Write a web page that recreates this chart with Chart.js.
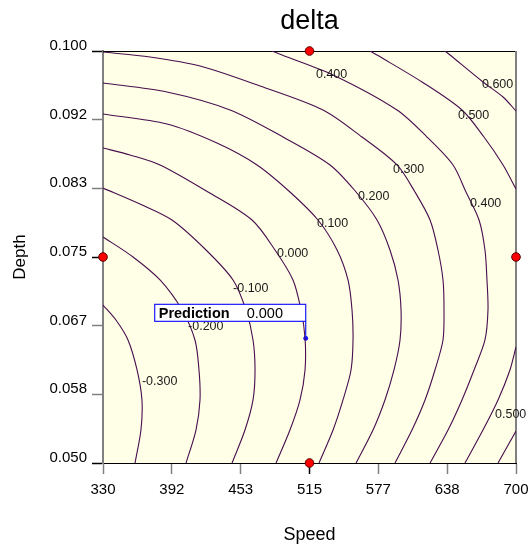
<!DOCTYPE html>
<html><head><meta charset="utf-8">
<script src="https://cdn.jsdelivr.net/npm/chart.js@4/dist/chart.umd.min.js"></script>
<style>html,body{margin:0;padding:0;background:#fff}canvas{display:block}</style>
</head><body>
<canvas id="c" width="531" height="546"></canvas>
<script>
// ---------- data ----------
const chartTitle = 'delta';
const xAxisTitle = 'Speed';
const yAxisTitle = 'Depth';
const xTickValues = [330, 391.6667, 453.3333, 515, 576.6667, 638.3333, 700];
const xTickLabels = ['330', '392', '453', '515', '577', '638', '700'];
const yTickValues = [0.05, 0.058333, 0.066667, 0.075, 0.083333, 0.091667, 0.1];
const yTickLabels = ['0.050', '0.058', '0.067', '0.075', '0.083', '0.092', '0.100'];

// contour lines, [Speed, Depth] points
const contourM030 = [[330,0.06917],[341.6,0.06735],[352.4,0.06493],[360.5,0.06129],[364.9,0.05765],[364.0,0.05400],[358.7,0.05000]];
const contourM020 = [[330,0.07743],[356.9,0.07500],[381.1,0.07221],[400.8,0.06857],[412.4,0.06493],[416.0,0.06129],[416.9,0.05765],[413.3,0.05400],[404.4,0.05000]];
const contourM010 = [[330,0.08337],[363.1,0.08143],[391.8,0.07949],[422.3,0.07585],[446.5,0.07221],[458.1,0.06857],[464.4,0.06493],[466.2,0.06129],[464.4,0.05765],[457.2,0.05400],[445.6,0.05000]];
const contourP000 = [[330,0.08823],[354.2,0.08738],[381.1,0.08617],[424.1,0.08289],[463.5,0.07949],[484.1,0.07585],[500.2,0.07221],[507.4,0.06857],[511.0,0.06517],[511.0,0.06129],[506.5,0.05765],[497.5,0.05400],[485.0,0.05000]];
const contourP010 = [[330,0.09235],[387.3,0.09114],[432.1,0.08883],[468.0,0.08617],[497.5,0.08289],[522.6,0.07949],[539.7,0.07585],[549.5,0.07221],[553.1,0.06857],[554.0,0.06493],[552.2,0.06129],[545.0,0.05765],[536.1,0.05400],[523.5,0.05000]];
const contourP020 = [[330,0.09612],[387.3,0.09502],[443.8,0.09284],[491.3,0.08956],[533.4,0.08617],[556.7,0.08289],[575.5,0.07949],[587.1,0.07585],[594.3,0.07221],[597.0,0.06857],[596.1,0.06493],[590.7,0.06129],[582.6,0.05765],[571.9,0.05400],[556.7,0.05000]];
const contourP030 = [[330,0.09988],[372.1,0.09927],[416.9,0.09818],[470.7,0.09575],[527.1,0.09284],[562.0,0.08956],[593.4,0.08617],[609.5,0.08289],[623.0,0.07949],[630.1,0.07585],[634.6,0.07221],[635.5,0.06857],[634.6,0.06493],[627.4,0.06129],[618.5,0.05765],[606.8,0.05400],[591.6,0.05000]];
const contourP040 = [[481.4,0.1],[490.4,0.09951],[536.1,0.09709],[593.4,0.09284],[620.3,0.08956],[643.6,0.08617],[655.2,0.08289],[666.9,0.07949],[672.2,0.07585],[674.0,0.07221],[674.9,0.06857],[672.2,0.06493],[662.4,0.06129],[651.6,0.05765],[639.1,0.05400],[623.0,0.05000]];
const contourP050a = [[569.2,0.1],[575.5,0.09951],[615.8,0.09624],[651.6,0.09284],[671.3,0.08956],[688.4,0.08617],[700,0.08325]];
const contourP050b = [[700,0.06408],[694.6,0.06129],[683.9,0.05765],[670.4,0.05400],[654.3,0.05000]];
const contourP060a = [[636.4,0.1],[640.9,0.09951],[670.4,0.09624],[688.4,0.09442],[700,0.09272]];
const contourP060b = [[700,0.05388],[683.9,0.05000]];

// contour labels: [text, Speed, Depth]
const contourLabels = [
  ['0.400', 520.8, 0.09709], ['0.600', 669.5, 0.09587], ['0.500', 648.0, 0.09211],
  ['0.300', 589.8, 0.08556], ['0.200', 558.5, 0.08228], ['0.400', 658.8, 0.08143],
  ['0.100', 521.7, 0.07900], ['0.000', 485.9, 0.07536], ['-0.100', 446.5, 0.07112],
  ['-0.200', 406.2, 0.06650], ['-0.300', 364.9, 0.05983], ['0.500', 681.2, 0.05582]
];

const designPoints = [[515, 0.1], [330, 0.075], [700, 0.075], [515, 0.05]];
const predictionPoint = [511.6, 0.06513];
const predictionLabel = 'Prediction';
const predictionValue = '0.000';

// ---------- chart ----------
const FONT = "'Liberation Sans', Arial, sans-serif";
Chart.defaults.font.family = FONT;
Chart.defaults.color = '#000';

const LINE_COLOR = '#480d4e';
const toXY = arr => arr.map(p => ({x: p[0], y: p[1]}));
const contours = [contourM030, contourM020, contourM010, contourP000, contourP010, contourP020,
  contourP030, contourP040, contourP050a, contourP050b, contourP060a, contourP060b];

const datasets = contours.map(c => ({
  data: toXY(c), showLine: true, borderColor: LINE_COLOR, borderWidth: 1.1,
  pointRadius: 0, pointHoverRadius: 0, tension: 0.3, fill: false
}));
datasets.push({
  data: toXY([predictionPoint]), showLine: false, pointRadius: 2, pointHoverRadius: 2,
  pointBackgroundColor: '#1010ff', pointBorderColor: '#1010ff', clip: false
});
datasets.push({
  data: toXY(designPoints), showLine: false, pointRadius: 4.3, pointHoverRadius: 4.3,
  pointBackgroundColor: '#ff0000', pointBorderColor: '#5a0000', pointBorderWidth: 1, clip: false
});

const framePlugin = {
  id: 'frame',
  beforeDraw(chart) {
    const {ctx, chartArea: a} = chart;
    ctx.save();
    ctx.fillStyle = '#ffffff';
    ctx.fillRect(0, 0, chart.width, chart.height);
    ctx.fillStyle = '#fffee6';
    ctx.fillRect(a.left, a.top, a.right - a.left, a.bottom - a.top);
    ctx.restore();
  },
  beforeDatasetsDraw(chart) {
    const {ctx, chartArea: a} = chart;
    ctx.save();
    ctx.strokeStyle = '#000';
    ctx.lineWidth = 1;
    ctx.beginPath();
    ctx.moveTo(a.left, a.top + 0.5);
    ctx.lineTo(a.right, a.top + 0.5);
    ctx.stroke();
    ctx.strokeStyle = '#808080';
    ctx.lineWidth = 2;
    ctx.beginPath();
    ctx.moveTo(a.right, a.top);
    ctx.lineTo(a.right, a.bottom);
    ctx.stroke();
    ctx.restore();
  },
  afterDatasetsDraw(chart) {
    const {ctx, scales: {x, y}} = chart;
    ctx.save();
    // contour labels
    ctx.font = "12.5px " + FONT;
    ctx.fillStyle = '#1a1a1a';
    ctx.textAlign = 'left';
    ctx.textBaseline = 'middle';
    contourLabels.forEach(l => {
      ctx.fillText(l[0], x.getPixelForValue(l[1]), y.getPixelForValue(l[2]));
    });
    // prediction flag
    const px = x.getPixelForValue(predictionPoint[0]);
    const py = y.getPixelForValue(predictionPoint[1]);
    const bw = 151, bh = 17, gap = 17;
    const bx = px - bw, by = py - gap - bh;
    ctx.strokeStyle = '#1a1aff';
    ctx.lineWidth = 1.2;
    ctx.beginPath();
    ctx.moveTo(px, py);
    ctx.lineTo(px, by + bh);
    ctx.stroke();
    ctx.fillStyle = '#ffffff';
    ctx.fillRect(bx, by, bw, bh);
    ctx.strokeRect(bx, by, bw, bh);
    ctx.fillStyle = '#000';
    ctx.font = "bold 14.5px " + FONT;
    ctx.fillText(predictionLabel, bx + 4, by + bh / 2 + 1);
    ctx.font = "14.5px " + FONT;
    ctx.fillText(predictionValue, bx + 92, by + bh / 2 + 1);
    ctx.restore();
  }
};

new Chart(document.getElementById('c'), {
  type: 'scatter',
  data: {datasets},
  plugins: [framePlugin],
  options: {
    responsive: false,
    animation: false,
    devicePixelRatio: 1,
    events: [],
    layout: {padding: {top: 0, left: 0, right: 15, bottom: 0}},
    plugins: {
      legend: {display: false},
      tooltip: {enabled: false},
      title: {
        display: true, text: chartTitle, color: '#000', fullSize: false,
        font: {size: 27, weight: 'normal', family: FONT},
        padding: {top: 5, bottom: 13.6}
      }
    },
    scales: {
      x: {
        type: 'linear', min: 330, max: 700,
        afterBuildTicks: s => { s.ticks = xTickValues.map(v => ({value: v})); },
        afterFit: s => { s.height = 83; s.paddingLeft = 0; s.paddingRight = 0; },
        ticks: {
          callback: (v, i) => xTickLabels[i], autoSkip: false, maxRotation: 0,
          font: {size: 15}, color: '#000', padding: 7
        },
        grid: {
          drawOnChartArea: false, drawTicks: true, tickLength: 11, tickWidth: 1.5,
          tickColor: c => c.index === 3 ? '#000' : '#808080'
        },
        border: {display: true, color: '#000', width: 1},
        title: {display: true, text: xAxisTitle, font: {size: 18}, color: '#000', padding: {top: 0, bottom: 0}}
      },
      y: {
        type: 'linear', min: 0.05, max: 0.1,
        afterBuildTicks: s => { s.ticks = yTickValues.map(v => ({value: v})); },
        afterFit: s => { s.width = 103; s.paddingTop = 0; s.paddingBottom = 0; },
        ticks: {
          callback: (v, i) => yTickLabels[i], autoSkip: false,
          font: {size: 15}, color: '#000', padding: 5, labelOffset: -5
        },
        grid: {
          drawOnChartArea: false, drawTicks: true, tickLength: 11, tickWidth: 1.5,
          tickColor: c => (c.index === 0 || c.index === 3 || c.index === 6) ? '#000' : '#808080'
        },
        border: {display: true, color: '#808080', width: 2},
        title: {display: true, text: yAxisTitle, font: {size: 17}, color: '#000', padding: {top: 10, bottom: 0}}
      }
    }
  }
});
</script>
</body></html>
